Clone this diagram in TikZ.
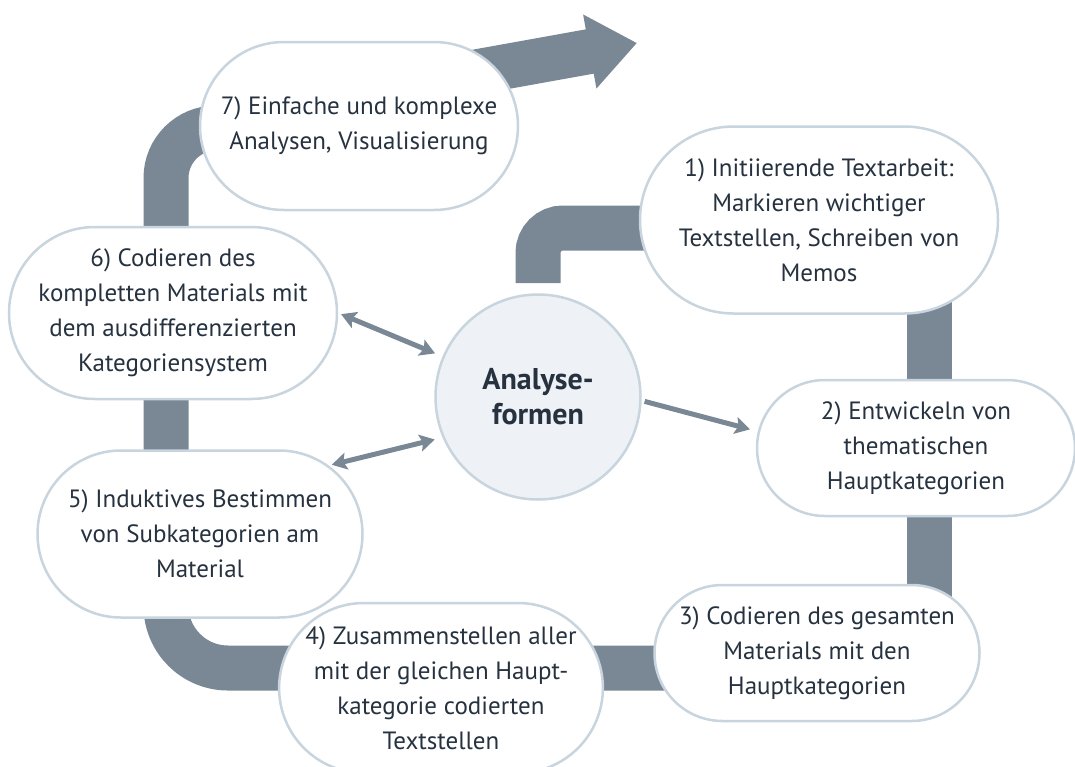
\documentclass[tikz,border=0pt]{standalone}
\usepackage{fontspec}
\setmainfont{PT Sans}
\usepackage{tikz}
\usetikzlibrary{shapes.misc}
\usetikzlibrary{arrows.meta,backgrounds}
\definecolor{bandgray}{HTML}{7A8896}
\definecolor{rimblue}{HTML}{C8D4DE}
\definecolor{inkdark}{HTML}{26323F}
\definecolor{corefill}{HTML}{EEF2F6}
\tikzset{
	% Two node styles for the cycle: phase boxes and the core circle
	phase node/.style={rounded rectangle,draw=rimblue,line width=2.5pt,fill=white,align=center,text=inkdark,inner sep=0pt},
	core node/.style={circle,draw=rimblue,line width=2.5pt,fill=corefill,align=center,text=inkdark,font=\fontsize{30}{35}\selectfont\bfseries,minimum size=205pt,inner sep=0pt},
	band/.style={draw=bandgray,line width=45pt},
	link/.style={draw=bandgray,line width=5pt}
}

\begin{document}
\begin{tikzpicture}[x=1pt,y=-1pt,font=\fontsize{25}{35}\selectfont]
				\useasboundingbox (0,0) rectangle (1075,766);
				% macro for the thin arrows round the core
				\newcommand{\link}[3][<->]{\draw[link,#1,shorten <=3pt,shorten >=8pt](#2)--(#3);}
				
				\node(af)[core node] at (538,397){Analyse-\\formen};
				\node(p-1)[phase node,minimum width=358pt,minimum height=187pt] at (819,220){1) Initiierende Textarbeit:\\Markieren wichtiger\\Textstellen, Schreiben von\\Memos};
				\node(p-2)[phase node,minimum width=318pt,minimum height=136pt] at (916,448){2) Entwickeln von\\thematischen\\Hauptkategorien};
				\node(p-3)[phase node,minimum width=325pt,minimum height=136pt] at (817,653){3) Codieren des gesamten\\Materials mit den\\Hauptkategorien};
				\node(p-4)[phase node,minimum width=302pt,minimum height=170pt] at (441,688){4) Zusammenstellen aller\\mit der gleichen Haupt-\\kategorie codierten\\Textstellen};
				\node(p-5)[phase node,minimum width=325pt,minimum height=167pt] at (200,534){5) Induktives Bestimmen\\von Subkategorien am\\Material};
				\node(p-6)[phase node,minimum width=328pt,minimum height=172pt] at (173,313){6) Codieren des\\kompletten Materials mit\\dem ausdifferenzierten\\Kategoriensystem};
				\node(p-7)[phase node,minimum width=318pt,minimum height=168pt] at (359,126){7) Einfache und komplexe\\Analysen, Visualisierung};
				
				% thick process band behind the phases
				\begin{scope}[on background layer]
					\draw[band,rounded corners=25pt] (538,283) -- (538,228) -- (819,228);
					\draw[band] (929,220) -- (929,668);
					\draw[band,rounded corners=62pt] (817,668) -- (166,668) -- (166,534);
					\draw[band,rounded corners=50pt] (166,534) -- (166,128) -- (359,128);
					\draw[band,-{Triangle[length=48pt,width=72pt]}] (359,93) -- (637,43);
				\end{scope}
				
				\link[{Stealth[length=15pt,width=17pt,inset=3pt]}-{Stealth[length=15pt,width=17pt,inset=3pt]}]{p-6.east}{af.157}
				\link[{Stealth[length=15pt,width=17pt,inset=3pt]}-{Stealth[length=15pt,width=17pt,inset=3pt]}]{p-5.28}{af.203}
				\link[-{Stealth[length=15pt,width=17pt,inset=3pt]}]{af.-2}{p-2.174}
\end{tikzpicture}
\end{document}
